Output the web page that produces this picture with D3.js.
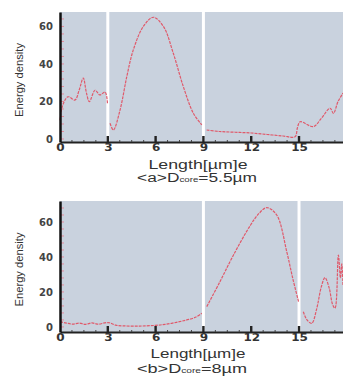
<!DOCTYPE html>
<html>
<head>
<meta charset="utf-8">
<script src="https://cdn.jsdelivr.net/npm/d3@7"></script>
<style>
  body { margin: 0; background: #fff; }
  svg { display: block; font-family: "Liberation Sans", Arial, sans-serif; }
</style>
</head>
<body>
<svg id="chart" width="343" height="377"></svg>
<script>
// panel (a): D_core = 5.5um, three fiber segments
const aSeg1 = [[0, 10], [0.17, 18], [0.5, 22.5], [0.94, 20.8], [1.2, 26], [1.46, 32.5], [1.65, 25], [1.84, 19.9], [2.2, 26], [2.5, 23.5], [2.83, 25], [2.98, 19]];
const aSeg2 = [[3.14, 8.4], [3.35, 4.8], [3.77, 15.5], [4.19, 33.2], [4.6, 47.5], [5.23, 60], [5.86, 64.9], [6.49, 60], [7.11, 45.7], [7.74, 27.9], [8.37, 13.7], [8.9, 7.5]];
const aSeg3 = [[9.2, 4.8], [10, 4], [11, 3.6], [12, 3.2], [13, 2.4], [14, 1.6], [14.75, 1.2], [14.9, 6], [15.07, 9.2], [15.9, 6.6], [16.4, 11], [16.95, 16.4], [17.16, 13.7], [17.45, 20], [17.76, 24.5]];

// panel (b): D_core = 8um
const bSeg1 = [[0, 3], [0.4, 2.2], [0.8, 1.6], [1.2, 2.2], [1.6, 1.5], [2.0, 2.3], [2.4, 1.6], [2.8, 2.3], [3.1, 2.4], [3.5, 1.0], [4.0, 0.6], [5.0, 0.5], [6.0, 0.9], [6.6, 1.5], [7.3, 2.6], [7.95, 4], [8.5, 5.5], [8.9, 7.8]];
const bSeg2 = [[9.21, 11.6], [10.04, 25.9], [10.88, 41], [11.94, 58], [12.5, 65], [12.98, 68.2], [13.6, 64], [14.23, 43], [14.6, 28], [14.97, 14.5]];
const bSeg3 = [[15.27, 8.7], [15.5, 4], [15.8, 2.1], [16.1, 10], [16.4, 23], [16.63, 28.2], [16.9, 22], [17.1, 13], [17.26, 10.7], [17.47, 41], [17.6, 28], [17.68, 36], [17.76, 24]];

const xTicks = [0, 3, 6, 9, 12, 15];
const yTicks = [0, 20, 40, 60];

const panels = [
  { top: 12, bottom: 142, yDomain: [-1.6, 67.7], gaps: [3, 9], segs: [aSeg1, aSeg2, aSeg3],
    tag: "<a>D", sub: "core", tail: "=5.5\u00b5m", labelY: 169, capY: 182, capX: 197, capW: 120, labW: 99 },
  { top: 201, bottom: 332, yDomain: [-2.9, 72], gaps: [9, 15], segs: [bSeg1, bSeg2, bSeg3],
    tag: "<b>D", sub: "core", tail: "=8\u00b5m", labelY: 358, capY: 373, capX: 192, capW: 110, labW: 95 }
];

const svg = d3.select("#chart");
const left = 60, right = 343;
const x = d3.scaleLinear().domain([0, 17.76]).range([left, right]);
const bg = "#c9d2de";
const lineColor = "#e0596a";

panels.forEach((p) => {
  const y = d3.scaleLinear().domain(p.yDomain).range([p.bottom, p.top]);
  const g = svg.append("g");

  // background panels split by white gaps
  const edges = [0].concat(p.gaps).concat([17.76]);
  for (let i = 0; i < edges.length - 1; i++) {
    const x0 = x(edges[i]) + (i === 0 ? 0 : 1.5);
    const x1 = x(edges[i + 1]) - (i === edges.length - 2 ? 0 : 1.5);
    g.append("rect")
      .attr("x", x0).attr("y", p.top)
      .attr("width", x1 - x0).attr("height", p.bottom - p.top)
      .attr("fill", bg);
  }

  // minor y ticks (pink, inside)
  g.append("g")
    .selectAll("line")
    .data(d3.range(0, p.yDomain[1], 4))
    .enter()
    .append("line")
    .attr("x1", left).attr("x2", left + 4)
    .attr("y1", (d) => y(d)).attr("y2", (d) => y(d))
    .attr("stroke", "#e48a9a").attr("stroke-width", 1);

  // curves
  const line = d3.line().x((d) => x(d[0])).y((d) => y(d[1])).curve(d3.curveCatmullRom);
  p.segs.forEach((s) => {
    g.append("path")
      .attr("d", line(s))
      .attr("fill", "none")
      .attr("stroke", lineColor)
      .attr("stroke-width", 1.2)
      .attr("stroke-dasharray", "3,1");
  });

  // x axis
  const xAxis = d3.axisBottom(x).tickValues(xTicks).tickSize(0).tickPadding(2);
  const xg = g.append("g").attr("transform", `translate(0,${p.bottom})`).call(xAxis);
  xg.select(".domain").attr("stroke", "#222").attr("stroke-width", 2);
  xg.selectAll("text")
    .attr("font-family", "DejaVu Sans").attr("font-size", 10).attr("font-weight", "bold").attr("fill", "#333")
    .attr("transform", "scale(1.2,1)");
  // minor x ticks
  g.append("g")
    .selectAll("line")
    .data(d3.range(0.75, 17.76, 0.75))
    .enter()
    .append("line")
    .attr("x1", (d) => x(d)).attr("x2", (d) => x(d))
    .attr("y1", p.bottom).attr("y2", p.bottom - 2)
    .attr("stroke", "#444").attr("stroke-width", 1);
  // major x tick bars
  g.append("g")
    .selectAll("rect")
    .data(xTicks.slice(1))
    .enter()
    .append("rect")
    .attr("x", (d) => x(d) - 1.2).attr("y", p.bottom - 6)
    .attr("width", 2.4).attr("height", 6)
    .attr("fill", "#222");

  // y axis
  const yAxis = d3.axisLeft(y).tickValues(yTicks).tickSize(0).tickPadding(7);
  const yg = g.append("g").attr("transform", `translate(${left},0)`).call(yAxis);
  yg.select(".domain").attr("stroke", "#111").attr("stroke-width", 2.5);
  yg.selectAll("text")
    .attr("font-family", "DejaVu Sans").attr("font-size", 10).attr("font-weight", "bold").attr("fill", "#444");

  // y label
  g.append("text")
    .attr("transform", `translate(23,${(p.top + p.bottom) / 2 + 3}) rotate(-90)`)
    .attr("text-anchor", "middle")
    .attr("font-size", 11)
    .attr("fill", "#333")
    .attr("textLength", 74)
    .attr("lengthAdjust", "spacingAndGlyphs")
    .text("Energy density");

  // x label
  g.append("text")
    .attr("x", 198).attr("y", p.labelY)
    .attr("text-anchor", "middle")
    .attr("font-size", 12.5)
    .attr("fill", "#333")
    .attr("textLength", p.labW)
    .attr("lengthAdjust", "spacingAndGlyphs")
    .text("Length[\u00b5m]e");

  // caption
  const cap = g.append("text")
    .attr("x", p.capX).attr("y", p.capY)
    .attr("text-anchor", "middle")
    .attr("font-size", 12.5)
    .attr("fill", "#333")
    .attr("textLength", p.capW)
    .attr("lengthAdjust", "spacingAndGlyphs");
  cap.append("tspan").text(p.tag);
  cap.append("tspan").attr("font-size", 7).text(p.sub);
  cap.append("tspan").text(p.tail);
});
</script>
</body>
</html>
